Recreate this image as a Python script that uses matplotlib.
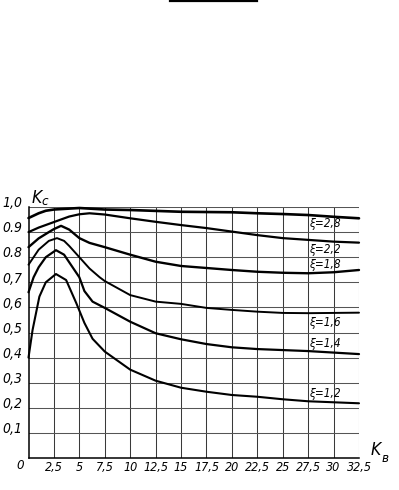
import os
import glob
import matplotlib
matplotlib.use("Agg")
import matplotlib.pyplot as plt
import matplotlib.font_manager as fm
from matplotlib.lines import Line2D

# ---- data ----
x_ticks = [2.5, 5, 7.5, 10, 12.5, 15, 17.5, 20, 22.5, 25, 27.5, 30, 32.5]
x_tick_labels = ["2,5", "5", "7,5", "10", "12,5", "15", "17,5", "20", "22,5",
                 "25", "27,5", "30", "32,5"]
y_ticks = [0.1, 0.2, 0.3, 0.4, 0.5, 0.6, 0.7, 0.8, 0.9, 1.0]
y_tick_labels = ["0,1", "0,2", "0,3", "0,4", "0,5", "0,6", "0,7", "0.8", "0.9", "1,0"]

xi28_x = [0, 1, 1.7, 2.5, 5, 7.5, 10, 15, 20, 22.5, 25, 27.5, 30, 32.5]
xi28_y = [0.956, 0.975, 0.985, 0.99, 0.996, 0.99, 0.988, 0.981, 0.979, 0.975,
          0.972, 0.968, 0.961, 0.955]

xi22_x = [0, 1, 2.5, 4, 5, 6, 7.5, 10, 12.5, 15, 17.5, 20, 22.5, 25, 27.5, 30, 32.5]
xi22_y = [0.90, 0.918, 0.94, 0.962, 0.971, 0.975, 0.97, 0.955, 0.941, 0.928,
          0.916, 0.902, 0.888, 0.876, 0.869, 0.862, 0.858]

xi18_x = [0, 1, 2, 2.5, 3.2, 4, 5, 6, 7.5, 10, 12.5, 15, 17.5, 20, 22.5, 25,
          27.5, 30, 32.5]
xi18_y = [0.84, 0.875, 0.9, 0.912, 0.925, 0.91, 0.876, 0.857, 0.84, 0.81, 0.782,
          0.765, 0.757, 0.749, 0.742, 0.738, 0.736, 0.74, 0.749]

xi16_x = [0, 1, 2, 2.8, 3.5, 4, 5, 6, 7, 7.5, 10, 12.5, 15, 17.5, 20, 22.5, 25,
          27.5, 30, 32.5]
xi16_y = [0.77, 0.83, 0.865, 0.876, 0.865, 0.845, 0.80, 0.755, 0.72, 0.705,
          0.649, 0.623, 0.614, 0.598, 0.59, 0.583, 0.578, 0.577, 0.578, 0.579]

xi14_x = [0, 0.5, 1, 1.7, 2.7, 3.5, 4.5, 5, 5.5, 6.3, 7.5, 10, 12.5, 15, 17.5,
          20, 22.5, 25, 27.5, 30, 32.5]
xi14_y = [0.66, 0.72, 0.76, 0.80, 0.828, 0.81, 0.75, 0.72, 0.665, 0.623, 0.598,
          0.543, 0.497, 0.473, 0.454, 0.441, 0.434, 0.43, 0.426, 0.42, 0.414]

xi12_x = [0, 0.4, 1.07, 1.7, 2.7, 3.7, 4.7, 5.5, 6.3, 7.5, 10, 12.5, 15, 17.5,
          20, 22.5, 25, 27.5, 30, 32.5]
xi12_y = [0.40, 0.51, 0.643, 0.70, 0.733, 0.709, 0.617, 0.538, 0.475, 0.424,
          0.352, 0.308, 0.28, 0.264, 0.251, 0.244, 0.234, 0.226, 0.222, 0.218]

curve_labels = ["ξ=2,8", "ξ=2,2", "ξ=1,8", "ξ=1,6", "ξ=1,4", "ξ=1,2"]
curve_label_y = [0.936, 0.829, 0.769, 0.540, 0.455, 0.258]
curve_label_x = 27.6


# ---- pick a narrow italic font if one is installed ----
def find_font(names):
    known = {os.path.basename(f.fname).lower(): f.fname for f in fm.fontManager.ttflist}
    files = glob.glob('/usr/share/fonts/**/*.tt[fc]', recursive=True) + \
        glob.glob('/usr/local/share/fonts/**/*.tt[fc]', recursive=True)
    for f in files:
        known.setdefault(os.path.basename(f).lower(), f)
    for n in names:
        if n.lower() in known:
            return known[n.lower()]
    return None


narrow = find_font(['LiberationSansNarrow-Italic.ttf', 'DejaVuSansCondensed-Oblique.ttf',
                    'OpenSans_Condensed-Italic.ttf', 'RobotoCondensed-Italic.ttf',
                    'Roboto_Condensed-Italic.ttf', 'NotoSans-CondensedItalic.ttf'])
scale = 1.0 if narrow else 0.8


def fp(size):
    if narrow:
        return fm.FontProperties(fname=narrow, size=size)
    return fm.FontProperties(family='DejaVu Sans', style='italic', size=size * scale,
                             stretch='condensed')


# ---- figure ----
fig = plt.figure(figsize=(3.99, 4.90), dpi=100)
ax = fig.add_axes([28.5 / 399, 32 / 490, (359 - 28.5) / 399, 251 / 490])
ax.set_xlim(0, 32.5)
ax.set_ylim(0, 1.0)

for xv in x_ticks:
    ax.axvline(xv, color='#3a3a3a', lw=0.75, zorder=1)
for yv in y_ticks:
    ax.axhline(yv, color='#555555', lw=0.75, zorder=1)

ax.set_xticks([])
ax.set_yticks([])
for s in ['top', 'right']:
    ax.spines[s].set_visible(False)
ax.spines['left'].set_linewidth(1.1)
ax.spines['bottom'].set_linewidth(1.1)

series = [(xi28_x, xi28_y, 1.9), (xi22_x, xi22_y, 1.6), (xi18_x, xi18_y, 1.7),
          (xi16_x, xi16_y, 1.4), (xi14_x, xi14_y, 1.6), (xi12_x, xi12_y, 1.5)]
for xs, ys, lw in series:
    ax.plot(xs, ys, color='black', lw=lw, solid_joinstyle='round',
            solid_capstyle='round', clip_on=False, zorder=3)

for lab, yv in zip(curve_labels, curve_label_y):
    ax.text(curve_label_x, yv, lab, fontproperties=fp(8.5), ha='left',
            va='center', zorder=4)

# tick labels
for xv, lab in zip(x_ticks, x_tick_labels):
    ax.text(xv, -0.038, lab, fontproperties=fp(9), ha='center',
            va='center', clip_on=False)
for yv, lab in zip(y_ticks, y_tick_labels):
    ax.text(-0.6, yv + 0.015, lab, fontproperties=fp(10), ha='right',
            va='center', clip_on=False)
ax.text(-0.85, -0.028, "0", fontproperties=fp(9.5), ha='center',
        va='center', clip_on=False)

# axis labels
ax.text(0.3, 1.035, "K", fontproperties=fp(12.5), ha='left', va='center',
        clip_on=False)
ax.text(1.25, 1.022, "c", fontproperties=fp(9.5), ha='left', va='center',
        clip_on=False)
ax.text(33.6, 0.03, "K", fontproperties=fp(12.5), ha='left', va='center',
        clip_on=False)
ax.text(34.75, 0.0, "в", fontproperties=fp(9.5), ha='left', va='center',
        clip_on=False)

# scan artifact line at top
fig.add_artist(Line2D([170 / 399, 257 / 399], [1 - 1.5 / 490, 1 - 1.5 / 490],
                      color='black', lw=1.6, transform=fig.transFigure))

fig.savefig("out.png", dpi=100, facecolor='white')
